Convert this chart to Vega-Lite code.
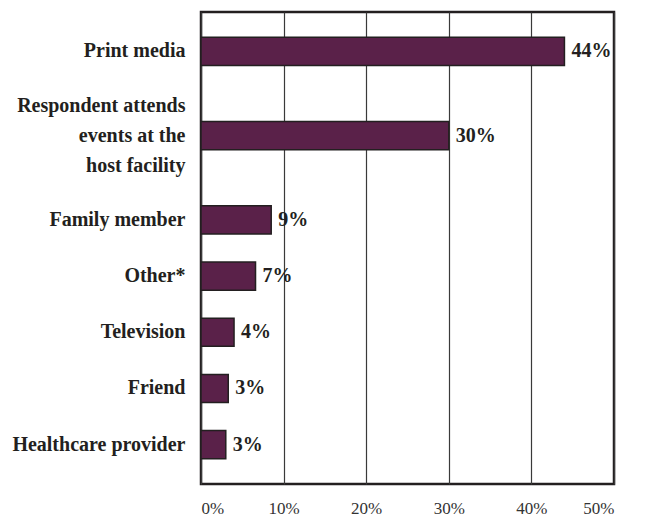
{
  "$schema": "https://vega.github.io/schema/vega-lite/v6.json",
  "width": 413,
  "height": 472,
  "autosize": {"type": "none"},
  "padding": {"left": 201, "top": 12, "right": 33, "bottom": 37},
  "background": "white",
  "config": {
    "view": {"stroke": "#231f20", "strokeWidth": 2.5},
    "font": "Liberation Serif"
  },
  "data": {
    "values": [
      {"source": "Print media", "pct": 0.44},
      {"source": "Respondent attends events at the host facility", "pct": 0.30},
      {"source": "Family member", "pct": 0.085},
      {"source": "Other*", "pct": 0.066},
      {"source": "Television", "pct": 0.04},
      {"source": "Friend", "pct": 0.033},
      {"source": "Healthcare provider", "pct": 0.03}
    ]
  },
  "encoding": {
    "y": {
      "field": "source",
      "type": "nominal",
      "sort": null,
      "scale": {
        "domain": ["Print media", " ", "  ", "Respondent attends events at the host facility", "   ", "    ", "Family member", "     ", "Other*", "      ", "Television", "       ", "Friend", "        ", "Healthcare provider"],
        "paddingInner": 0,
        "paddingOuter": 0.9
      },
      "axis": {
        "title": null,
        "domain": false,
        "ticks": false,
        "labelFont": "Liberation Serif",
        "labelFontWeight": "bold",
        "labelFontSize": 20,
        "labelColor": "#231f20",
        "labelPadding": 16,
        "labelLineHeight": 30,
        "labelLimit": 300,
        "labelOverlap": false,
        "labelOffset": {"condition": {"test": "datum.value == 'Respondent attends events at the host facility'", "value": -30}, "value": 0},
        "labelExpr": "datum.label == 'Respondent attends events at the host facility' ? ['Respondent attends', 'events at the', 'host facility'] : datum.label"
      }
    },
    "x": {
      "field": "pct",
      "type": "quantitative",
      "scale": {"domain": [0, 0.5]},
      "axis": {
        "title": null,
        "values": [0, 0.1, 0.2, 0.3, 0.4, 0.5],
        "format": ".0%",
        "domain": false,
        "ticks": false,
        "grid": true,
        "gridColor": "#3a3a3a",
        "gridWidth": 1.2,
        "labelFont": "Liberation Serif",
        "labelFontSize": 17,
        "labelColor": "#333333",
        "labelPadding": 16
      }
    }
  },
  "layer": [
    {
      "mark": {"type": "bar", "fill": "#5a2149", "stroke": "#231f20", "strokeWidth": 1.5}
    },
    {
      "mark": {"type": "text", "align": "left", "baseline": "middle", "dx": 7, "font": "Liberation Serif", "fontWeight": "bold", "fontSize": 20, "color": "#231f20"},
      "encoding": {"text": {"field": "pct", "type": "quantitative", "format": ".0%"}}
    }
  ]
}
